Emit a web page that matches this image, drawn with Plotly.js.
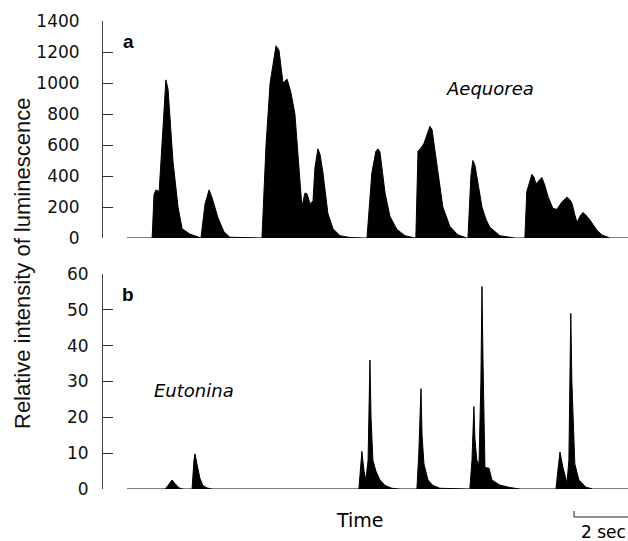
<!DOCTYPE html>
<html>
<head>
<meta charset="utf-8">
<script src="https://cdn.plot.ly/plotly-3.0.1.min.js"></script>
<style>html,body{margin:0;padding:0;background:#fff;}#chart{width:628px;height:541px;}</style>
</head>
<body>
<div id="chart"></div>
<script>
// Time (s) and relative luminescence, panel a (Aequorea)
var aequoreaTime = [0, 0.93, 1.00, 1.07, 1.19, 1.30, 1.44, 1.52, 1.70, 1.89, 2.04, 2.33, 2.67,
  2.74, 2.89, 3.04, 3.15, 3.37, 3.59, 3.81,
  5.00, 5.15, 5.30, 5.52, 5.63, 5.78, 5.93, 6.07, 6.22, 6.37, 6.48, 6.59, 6.67, 6.78, 6.89, 6.96,
  7.07, 7.15, 7.26, 7.44, 7.63, 7.89, 8.26, 8.81,
  8.89, 9.07, 9.22, 9.30, 9.37, 9.56, 9.74, 10.00, 10.30, 10.67,
  10.70, 10.78, 10.89, 11.00, 11.15, 11.22, 11.30, 11.41, 11.59, 11.70, 11.96, 12.26, 12.59,
  12.63, 12.74, 12.81, 12.89, 13.00, 13.15, 13.30, 13.44, 13.81, 14.37, 14.74,
  14.81, 15.00, 15.07, 15.15, 15.26, 15.37, 15.48, 15.59, 15.78, 15.93, 16.11, 16.22, 16.30,
  16.41, 16.48, 16.59, 16.67, 16.78, 16.89, 17.04, 17.15, 17.41, 17.59, 17.89, 18.56];
var aequoreaValue = [0, 0, 280, 310, 300, 600, 1020, 960, 500, 200, 60, 25, 0,
  0, 220, 310, 260, 130, 40, 5,
  0, 600, 1000, 1240, 1210, 1000, 1025, 940, 800, 450, 200, 290, 285, 220, 240, 450,
  575, 540, 420, 160, 60, 15, 3, 0,
  0, 420, 560, 575, 555, 290, 140, 55, 15, 0,
  0, 560, 580, 610, 690, 720, 700, 570, 330, 200, 75, 20, 0,
  0, 400, 500, 470, 355, 200, 120, 70, 15, 0, 0,
  300, 410, 395, 350, 370, 390, 340, 270, 190, 185, 232, 250, 264,
  245, 225, 150, 100, 140, 165, 140, 116, 50, 20, 0, 0];

// Time (s) and relative luminescence, panel b (Eutonina)
var eutoninaTime = [0, 1.41, 1.52, 1.67, 1.78, 1.93, 2.07, 2.41, 2.48, 2.52, 2.59, 2.70, 2.81, 2.96, 3.15,
  8.59, 8.70, 8.78, 8.85, 8.93, 9.00, 9.04, 9.11, 9.22, 9.37, 9.56, 9.81, 10.11,
  10.74, 10.81, 10.89, 10.93, 11.00, 11.15, 11.33, 11.59,
  12.70, 12.78, 12.85, 12.89, 12.96, 13.04, 13.11, 13.15, 13.19, 13.26, 13.41, 13.52, 13.81, 14.19, 14.56,
  15.89, 15.96, 16.04, 16.15, 16.30, 16.37, 16.44, 16.48, 16.59, 16.74, 17.00, 17.26, 18.56];
var eutoninaValue = [0, 0, 1, 2.5, 1.5, 0.3, 0, 0, 8, 9.8, 7, 3, 1, 0.3, 0,
  0, 10.5, 5, 2.5, 8, 36, 20, 8, 5, 2.5, 1, 0.2, 0,
  0, 10, 28, 15, 7, 2.5, 1, 0.2,
  0, 8, 23, 14, 8, 7, 30, 56.5, 35, 6, 5.8, 2.5, 1.1, 0.4, 0,
  0, 5, 10.3, 6, 1.7, 8, 49, 30, 7, 2.5, 0.5, 0, 0];

var topTicks = [0, 200, 400, 600, 800, 1000, 1200, 1400];
var bottomTicks = [0, 10, 20, 30, 40, 50, 60];
var scaleBarStart = 16.56, scaleBarSeconds = 2;

var H = 541;
function dom(pxBottom, pxTop) { return [1 - pxBottom / H, 1 - pxTop / H]; }
function px(xpx) { return (xpx - 103) / 525; }

var traces = [
  {x: aequoreaTime, y: aequoreaValue, type: 'scatter', mode: 'lines', fill: 'tozeroy',
   fillcolor: '#000', line: {color: '#000', width: 1}, xaxis: 'x', yaxis: 'y', hoverinfo: 'skip'},
  {x: eutoninaTime, y: eutoninaValue, type: 'scatter', mode: 'lines', fill: 'tozeroy',
   fillcolor: '#000', line: {color: '#000', width: 1}, xaxis: 'x2', yaxis: 'y2', hoverinfo: 'skip'}
];

var xr = [-0.89, 18.56];
var DJ = 'DejaVu Sans, Verdana, sans-serif';
var LS = 'Liberation Sans, Arial, sans-serif';
var yCommon = {showgrid: false, zeroline: false, showline: true, linecolor: '#444', linewidth: 1,
  ticks: 'inside', ticklen: 10, tickcolor: '#333', tickwidth: 1,
  tickfont: {family: DJ, size: 17, color: '#111'}, fixedrange: true};

var layout = {
  width: 628, height: 541,
  margin: {l: 103, r: 0, t: 0, b: 0},
  paper_bgcolor: '#fff', plot_bgcolor: 'rgba(0,0,0,0)',
  showlegend: false,
  xaxis: {domain: [0, 1], range: xr, visible: false, anchor: 'y'},
  xaxis2: {domain: [0, 1], range: xr, visible: false, anchor: 'y2'},
  yaxis: Object.assign({}, yCommon, {domain: dom(238, 21), range: [0, 1400], tickvals: topTicks, anchor: 'x', ticklabelstandoff: 19}),
  yaxis2: Object.assign({}, yCommon, {domain: dom(489, 274), range: [0, 60], tickvals: bottomTicks, anchor: 'x2', ticklabelstandoff: 10}),
  shapes: [
    {type: 'line', xref: 'x', yref: 'paper', x0: scaleBarStart, x1: scaleBarStart + scaleBarSeconds,
     y0: 1 - 517 / H, y1: 1 - 517 / H, line: {color: '#222', width: 1}},
    {type: 'line', xref: 'x', yref: 'paper', x0: scaleBarStart, x1: scaleBarStart,
     y0: 1 - 517 / H, y1: 1 - 511 / H, line: {color: '#222', width: 1}}
  ],
  annotations: [
    {text: '<b>a</b>', xref: 'paper', yref: 'paper', x: px(128), y: 1 - 42 / H, showarrow: false,
     xanchor: 'center', yanchor: 'middle', font: {family: LS, size: 19, color: '#000'}},
    {text: '<b>b</b>', xref: 'paper', yref: 'paper', x: px(128), y: 1 - 294 / H, showarrow: false,
     xanchor: 'center', yanchor: 'middle', font: {family: LS, size: 19, color: '#000'}},
    {text: '<i>Aequorea</i>', xref: 'paper', yref: 'paper', x: px(490), y: 1 - 88 / H, showarrow: false,
     xanchor: 'center', yanchor: 'middle', font: {family: DJ, size: 18, color: '#000'}},
    {text: '<i>Eutonina</i>', xref: 'paper', yref: 'paper', x: px(194), y: 1 - 390 / H, showarrow: false,
     xanchor: 'center', yanchor: 'middle', font: {family: DJ, size: 18, color: '#000'}},
    {text: 'Time', xref: 'paper', yref: 'paper', x: px(360), y: 1 - 520 / H, showarrow: false,
     xanchor: 'center', yanchor: 'middle', font: {family: DJ, size: 19, color: '#000'}},
    {text: '2 sec', xref: 'paper', yref: 'paper', x: px(603), y: 1 - 532 / H, showarrow: false,
     xanchor: 'center', yanchor: 'middle', font: {family: DJ, size: 17, color: '#000'}},
    {text: 'Relative intensity of luminescence', xref: 'paper', yref: 'paper', x: px(22), y: 1 - 264 / H,
     showarrow: false, textangle: -90, xanchor: 'center', yanchor: 'middle',
     font: {family: LS, size: 22, color: '#111'}}
  ]
};

Plotly.newPlot('chart', traces, layout, {staticPlot: true, displayModeBar: false});
</script>
</body>
</html>
